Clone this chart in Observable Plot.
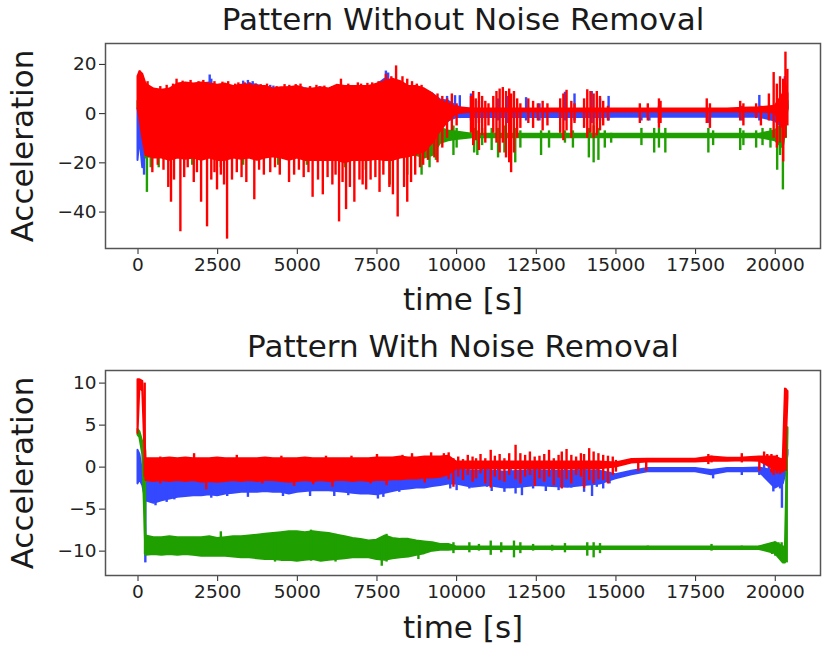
<!DOCTYPE html>
<html><head><meta charset="utf-8">
<script src="https://cdn.jsdelivr.net/npm/d3@7"></script>
<script src="https://cdn.jsdelivr.net/npm/@observablehq/plot@0.6"></script>
<style>
body{margin:0;background:#fff;}
#chart{width:830px;height:650px;}
#chart svg{display:block;}
</style></head><body><div id="chart"></div>
<script>
// ---------- shared time grid (s) ----------
const tGrid = [0, 60, 150, 250,
  500, 750, 1000, 1250, 1500, 1750, 2000, 2250, 2500, 2750,
  3000, 3250, 3500, 3750, 4000, 4250, 4500, 4750, 5000, 5250,
  5500, 5750, 6000, 6250, 6500, 6750, 7000, 7250, 7500, 7750,
  8000, 8250, 8500, 8750, 9000, 9250, 9500, 9750, 10000,
  10500, 11000, 11500, 12000, 12500, 13000, 13500, 14000, 14500, 15000,
  15500, 16000, 16500, 17000, 17500, 18000, 18500, 19000, 19500, 20000,
  20250, 20320, 20400];

const xTicks = [0, 2500, 5000, 7500, 10000, 12500, 15000, 17500, 20000];
const topYTicks = [-40, -20, 0, 20];
const botYTicks = [-10, -5, 0, 5, 10];
const titles = ["Pattern Without Noise Removal", "Pattern With Noise Removal"];
const xLabel = "time [s]";
const yLabel = "Acceleration";

// ---------- TOP: without noise removal (envelopes lo/hi on tGrid) ----------
const topBlueLo = [-19, -10, -22, -15,
  -15, -15, -15, -15, -15, -15, -15, -15, -15, -15,
  -15, -15, -15, -15, -15, -15, -15, -15, -15, -15,
  -15, -15, -15, -15, -15, -15, -15, -15, -15, -15,
  -15, -15, -15, -14, -13, -11, -6, -3, -1.6,
  -1.6, -1.6, -1.6, -1.6, -1.6, -1.6, -1.6, -1.6, -1.6, -1.5,
  -1.5, -1.5, -1.5, -1.5, -1.5, -1.5, -1.5, -1.5, -1.5, -3,
  -6, 0, 2];
const topBlueHi = [2, 0, 5, 8,
  9.5, 9, 9.5, 11.5, 12, 11.5, 12, 12.5, 11, 11.5,
  10.5, 11, 12, 11.5, 10.5, 9.5, 10, 10.5, 10.5, 9.5,
  9.5, 10, 9.5, 10.5, 10.5, 10.5, 10.5, 10.5, 11.5, 14,
  13, 12.5, 11, 10.5, 9.5, 8, 5.5, 5, 3,
  0.3, 0.3, 0.3, 0.3, 0.3, 0.3, 0.3, 0.3, 0.3, 0.3,
  0.3, 0.3, 0.3, 0.3, 0.3, 0.3, 0.3, 0.3, 0.3, 3,
  6, 8, 3];
const topGreenLo = [2, 2, -5, -18,
  -17, -17, -17, -17, -17, -17, -17, -17, -17, -17,
  -17, -17, -17, -17, -17, -17, -17, -17, -17, -17,
  -17, -17, -17, -17, -17, -17, -17, -17, -17, -17,
  -17, -17, -17, -17, -18, -17, -12, -11, -10.5,
  -9.8, -9.8, -9.8, -9.8, -9.8, -9.8, -9.8, -9.8, -9.8, -9.8,
  -9.8, -9.8, -9.8, -9.8, -9.8, -9.8, -9.8, -9.8, -9.8, -11,
  -14, -8, 2];
const topGreenHi = [5, 4.5, 3, 0,
  4, 4, 4, 4, 4, 4, 4, 4, 4, 4,
  4, 4, 4, 4, 4, 4, 4, 4, 4, 4,
  4, 4, 4, 4, 4, 4, 4, 4, 4, 4,
  4, 3, 2, 0, -2, -4, -6, -7, -7.5,
  -8.4, -8.4, -8.4, -8.4, -8.4, -8.4, -8.4, -8.4, -8.4, -8.4,
  -8.4, -8.4, -8.4, -8.4, -8.4, -8.4, -8.4, -8.4, -8.4, -7,
  -4, 3, 5];
const topRedLo = [2, -2, -10, -17,
  -18, -18, -19, -18, -18.5, -18, -19, -18, -19, -19,
  -18, -18.5, -18, -19, -18, -17.5, -18, -19, -18, -19,
  -19, -19, -19, -19, -20, -19, -19, -19, -18.5, -19,
  -19, -18, -17.5, -16.5, -15.5, -12, -7, -3, 0,
  0.7, 0.7, 0.7, 0.7, 0.7, 0.7, 0.7, 0.7, 0.7, 0.7,
  0.7, 0.7, 0.7, 0.7, 0.7, 0.7, 0.7, 0.7, 0.6, 0.3,
  -6, -4, 2];
const topRedHi = [15, 17, 16, 12,
  10, 9.5, 10, 12, 12.5, 12, 12.5, 12, 11.5, 12,
  11, 11.5, 11.5, 11, 11, 10, 10.5, 10.5, 11, 10,
  10, 10.5, 10, 11.5, 11, 11, 11, 11, 12, 13,
  14, 13, 11, 11, 10, 8, 5, 4, 2.5,
  1.9, 1.9, 1.9, 1.9, 1.9, 1.9, 1.9, 1.9, 1.9, 1.9,
  1.9, 1.9, 1.9, 1.9, 1.9, 1.9, 1.9, 2.2, 2.4, 3,
  8, 12, 8];

// spikes [t, lo, hi]
const topBlueSpikes = [[190, -25, 0], [2250, 5, 15.7], [2300, 5, 14], [3300, 5, 13.2], [3450, 5, 13.5],
  [3600, 5, 13], [4150, 5, 11.5], [4250, 5, 11.2], [5150, 5, 10.8], [5250, 5, 10.5], [5700, 5, 11],
  [7780, 5, 17.3], [7850, 5, 16.5], [8950, 0, 8], [9200, 0, 8], [9700, -3, 7], [9950, -2, 7.3],
  [10100, -2, 7.3], [10450, -3, 8], [10700, -4, 5], [11300, -3, 6], [11600, -4, 7], [12180, -3, 6.5],
  [12600, -3, 4], [13400, -3, 8.7], [13700, -3, 8], [14240, -4, 9], [14500, -3, 6], [14770, -3, 7],
  [15800, -3, 2], [16050, -3, 2], [16350, -4, 3], [17900, -4, 2], [18950, -3, 3], [19500, -3, 7.4],
  [20300, -6, 15]];
const topGreenSpikes = [[280, -32, -10], [400, -22, -15], [650, -22, -15], [1700, -21, -15],
  [2600, -22, -15], [3300, -21, -15], [4400, -21, -15], [5300, -21, -15], [6500, -22, -15],
  [7150, -23, -15], [7900, -29, -15], [8450, -25, -15], [8900, -25, -12], [9150, -22, -10],
  [9350, -19, -8], [9900, -17, -5], [10000, -14, -6], [10550, -16, -6], [10650, -17, -7],
  [10800, -13, -6], [11100, -15, -6], [11300, -18, -6], [11500, -16, -5], [11700, -19, -6],
  [11840, -20, -6], [12000, -14, -7], [12650, -17, -7], [12900, -14, -7], [13400, -12, -7],
  [13650, -14, -7], [14150, -18, -6], [14300, -20, -5], [14450, -19, -6], [14650, -14, -7],
  [14850, -12, -8], [15800, -13, -6], [16200, -16, -6], [16350, -14, -6], [16550, -16, -6],
  [17900, -16, -6], [18050, -13, -7], [18900, -15, -6], [19000, -13, -7], [19400, -14, -7],
  [19600, -13, -6], [19850, -14, -6], [20060, -23, -6], [20150, -17, -5], [20240, -31, -8],
  [20330, -10, 5]];
const topRedSpikes = [[60, 2, 17.3],
  [300, 5, 13], [700, 5, 11], [900, 5, 11.5], [1100, 5, 12], [1400, 5, 13.2], [1900, 5, 13],
  [2400, 5, 13], [2650, 5, 12.8], [3050, 5, 12], [3150, 5, 12.5], [3350, 5, 12.5], [3700, 5, 12],
  [3850, 5, 11.8], [4350, 5, 11], [4750, 5, 11.5], [4950, 5, 11.8], [5400, 5, 11], [5850, 5, 11.2],
  [6100, 5, 11], [6600, 5, 12], [7000, 5, 12], [7200, 5, 12.3], [7550, 5, 13], [7950, 5, 15],
  [8450, 5, 14], [8750, 5, 12], [8900, 5, 11.5],
  [450, -24, -15], [620, -21, -15], [800, -23, -15], [950, -30, -15], [1036, -36, -15],
  [1130, -27, -15], [1210, 5, 14], [1330, -48, -15], [1450, -26, -15], [1560, -22, -15],
  [1650, 5, 13.5], [1750, -28, -15], [1850, -24, -15], [1980, -36, -15], [2050, 5, 13.5],
  [2167, -46, -15], [2300, -27, -15], [2400, -24, -15], [2480, -31, -15], [2600, -25, -15],
  [2700, -29, -15], [2795, -51, -15], [2830, 5, 13], [2950, -27, -15], [3100, -24, -15],
  [3250, -26, -15], [3400, -28, -15], [3500, 5, 12.5], [3650, -35, -15], [3800, -23, -15],
  [3950, -25, -15], [4050, 5, 12], [4150, -24, -15], [4300, -22, -15], [4450, -25, -15],
  [4600, 5, 11.8], [4740, -28, -15], [4900, -25, -15], [5050, -23, -15], [5100, 5, 12],
  [5200, -26, -15], [5350, -24, -15], [5480, -34, -15], [5600, 5, 11.5], [5650, -27, -15],
  [5800, -33, -15], [5950, -26, -15], [6100, -29, -15], [6200, -25, -15], [6310, -44, -15],
  [6370, 5, 14], [6420, -28, -15], [6530, -39, -15], [6650, -30, -15], [6790, -36, -15],
  [6900, 5, 12.5], [6950, -27, -15], [7050, -29, -15], [7160, -31, -15], [7300, -27, -15],
  [7350, 5, 12.5], [7450, -26, -15], [7580, -32, -15], [7700, -25, -15], [7780, 5, 16],
  [7890, -30, -15], [8000, -33, -15], [8100, 5, 19.4], [8150, -42, -15], [8300, 5, 15],
  [8350, -30, -15], [8450, -36, -15], [8570, -28, -15], [8600, 5, 13], [8700, -25, -15],
  [8850, -22, -15], [8950, -21, -12], [9100, -19, -10], [9300, -18, -8], [9400, -20, 8],
  [9550, -14, 7], [9700, -10, 6], [9850, -7, 8], [10000, -5, 4],
  [10450, -8, 7], [10520, -13, 9], [10600, -11, 6], [10700, -15, 8.6], [10800, -9, 7],
  [10900, -12, 5], [11000, -5, 4], [11150, -8, 7], [11250, -12, 9], [11350, -16, 10],
  [11450, -12, 10.6], [11550, -18, 9], [11650, -20, 10], [11710, -24, 8], [11800, -16, 9],
  [11900, -10, 6], [12000, -6, 4], [12250, -4, 6], [12400, -6, 5], [12550, -3, 4],
  [12700, -7, 5], [12850, -5, 4], [13250, -8, 6], [13350, -11, 8], [13450, -7, 9.5],
  [13600, -10, 5], [13700, -4, 4], [14000, -6, 6], [14100, -10, 9.7], [14200, -8, 9],
  [14300, -10, 8], [14400, -9, 9], [14500, -7, 7], [14600, -5, 5], [14750, -3, 3],
  [15750, -4, 4], [16000, -3, 4], [16350, -6, 6], [16400, -4, 5], [17850, -4, 6],
  [17950, -6, 4], [18900, -3, 5], [19000, -5, 4], [19400, -2, 4], [19550, -5, 3],
  [19800, -3, 8], [19950, -10, 16.7], [20050, -14, 12], [20150, -12, 15], [20250, -19.6, 14],
  [20320, -10, 25], [20380, -5, 18]];

// ---------- BOTTOM: with noise removal ----------
const botBlueLo = [-2.0, -1.5, -2.2, -4.0,
  -4.3, -4.0, -3.8, -3.6, -3.5, -3.4, -3.4, -3.3, -3.4, -3.2,
  -3.1, -3.0, -3.0, -3.0, -2.9, -3.0, -3.0, -3.2, -3.0, -2.9,
  -2.8, -2.8, -2.8, -2.9, -3.0, -3.1, -3.2, -3.2, -3.3, -3.1,
  -2.9, -2.7, -2.6, -2.5, -2.5, -2.3, -2.2, -2.0, -2.0,
  -2.4, -2.2, -2.5, -2.4, -2.2, -2.3, -2.4, -2.2, -2.0, -1.4,
  -0.9, -0.55, -0.55, -0.55, -0.55, -0.9, -0.55, -0.55, -0.55, -2.5,
  -2.0, -1.0, 1.5];
const botBlueHi = [2.0, 1.5, -0.8, -1.2,
  -1.2, -1.2, -1.2, -1.2, -1.2, -1.2, -1.2, -1.2, -1.2, -1.1,
  -1.1, -1.1, -1.0, -1.0, -1.0, -1.0, -1.0, -1.0, -1.0, -1.0,
  -1.0, -1.0, -1.0, -1.0, -1.0, -1.0, -1.0, -1.0, -1.0, -1.0,
  -1.0, -0.9, -0.9, -0.8, -0.8, -0.7, -0.6, -0.5, -0.3,
  -0.5, -0.4, -0.6, -0.5, -0.4, -0.5, -0.5, -0.4, -0.5, -0.9,
  -0.5, -0.15, -0.15, -0.15, -0.15, -0.4, -0.15, -0.15, -0.1, -0.5,
  -0.8, 2.0, 2.0];
const botGreenLo = [3.8, 3.5, 1.5, -10.5,
  -10.4, -10.5, -10.4, -10.5, -10.4, -10.5, -10.6, -10.6, -10.6, -10.6,
  -10.7, -10.8, -10.8, -10.9, -11.0, -11.0, -11.1, -11.1, -11.2, -11.1,
  -11.0, -11.2, -11.1, -11.0, -10.9, -10.8, -10.8, -10.8, -11.0, -11.1,
  -10.9, -10.8, -10.7, -10.5, -10.3, -10.0, -9.9, -9.9, -9.8,
  -9.8, -9.8, -9.8, -9.8, -9.8, -9.8, -9.8, -9.8, -9.8, -9.8,
  -9.8, -9.8, -9.8, -9.8, -9.8, -9.8, -9.8, -9.8, -9.8, -10.3,
  -11.4, -11.4, 4.0];
const botGreenHi = [4.5, 4.2, 3.0, -8.2,
  -8.4, -8.4, -8.3, -8.4, -8.4, -8.4, -8.4, -8.3, -8.5, -8.4,
  -8.3, -8.3, -8.2, -8.1, -8.0, -7.9, -7.8, -7.7, -7.7, -7.8,
  -7.7, -7.8, -7.9, -8.1, -8.3, -8.5, -8.6, -8.8, -8.7, -8.2,
  -8.5, -8.6, -8.6, -8.8, -8.9, -9.0, -9.2, -9.2, -9.5,
  -9.5, -9.5, -9.5, -9.5, -9.5, -9.5, -9.5, -9.5, -9.5, -9.5,
  -9.5, -9.5, -9.5, -9.5, -9.5, -9.5, -9.5, -9.5, -9.5, -9.0,
  -9.5, -9.5, 4.7];
const botRedLo = [4, 9.5, 9.0, -1.6,
  -1.7, -1.6, -1.7, -1.6, -1.7, -1.6, -1.8, -1.7, -1.8, -1.7,
  -1.6, -1.7, -1.6, -1.7, -1.6, -1.6, -1.7, -1.8, -1.7, -1.6,
  -1.7, -1.6, -1.7, -1.6, -1.6, -1.7, -1.6, -1.7, -1.6, -1.6,
  -1.5, -1.5, -1.4, -1.4, -1.3, -1.3, -1.2, -0.9, -0.2,
  -0.2, -0.2, -0.2, -0.2, -0.2, -0.2, -0.2, -0.2, -0.2, 0.0,
  0.5, 0.6, 0.6, 0.6, 0.6, 0.7, 0.7, 0.75, 0.7, -0.3,
  -0.6, 0.0, 8.2];
const botRedHi = [10.4, 10.4, 10.2, 1.0,
  1.0, 1.0, 1.1, 1.0, 1.1, 1.0, 1.0, 1.0, 1.1, 1.0,
  1.0, 1.0, 1.0, 1.0, 1.1, 1.0, 1.0, 1.0, 1.0, 1.1,
  1.0, 1.0, 1.0, 1.0, 1.0, 1.0, 1.0, 1.0, 1.1, 1.1,
  1.1, 1.2, 1.1, 1.1, 1.2, 1.2, 1.2, 1.3, 0.6,
  0.6, 0.6, 0.6, 0.6, 0.6, 0.6, 0.6, 0.6, 0.6, 0.5,
  0.9, 0.95, 0.95, 0.95, 0.95, 1.2, 1.05, 1.1, 1.2, 1.2,
  0.8, 9.3, 9.0];

const botBlueSpikes = [[230, -11.4, -1.5], [550, -4.6, -2], [900, -4.2, -2], [1140, -3.9, -2],
  [2300, -3.7, -2], [2800, -3.5, -2], [3450, -3.6, -2], [4550, -3.5, -2], [5400, -3.5, -2],
  [6160, -3.5, -2], [6600, -3.4, -2], [7530, -3.8, -2], [7700, -3.6, -2], [8200, -3.0, -1.5],
  [9670, -1.5, 0.2], [9800, -2.6, -0.4], [10000, -2.8, -0.5], [10200, -2.2, 0.0], [10400, -2.6, -0.3],
  [10600, -2.0, -0.2], [10800, -1.2, 0.2], [10950, -2.4, -0.5], [11100, -2.9, -0.8], [11300, -2.2, -0.2],
  [11500, -3.0, -0.6], [11700, -2.4, -0.3], [11850, -3.2, -0.5], [12050, -3.4, -1.0], [12250, -2.2, -0.2],
  [12400, -2.6, -0.4], [12600, -2.1, -0.3], [12800, -2.9, -0.6], [13000, -2.3, -0.2], [13200, -2.8, -0.5],
  [13400, -2.0, -0.1], [13600, -2.5, -0.4], [13800, -2.2, -0.3], [14000, -3.0, -0.6], [14250, -3.5, -0.5],
  [14400, -2.4, -0.3], [14600, -2.6, -0.8], [14800, -2.0, -0.6],
  [18050, -1.4, -0.3], [18950, -1.0, -0.3], [19500, -1.0, -0.3], [19650, -0.5, 0.4], [19800, -1.2, 0.2],
  [19940, -2.95, -0.5], [20050, -2.2, -0.6], [20150, -2.6, -0.8], [20210, -4.9, -1.0], [20350, -1.0, 2.0]];
const botGreenSpikes = [[220, -10.4, 2.0],
  [2600, -10.5, -7.7], [4300, -11.3, -7.8], [5430, -11.2, -7.5], [6200, -11.3, -8.0],
  [7650, -11.8, -9.0], [7800, -11.3, -8.0], [8800, -11.0, -9.0],
  [9900, -10.3, -9.0], [10400, -10.2, -9.0], [10700, -10.0, -9.2], [11070, -10.5, -8.8],
  [11400, -10.2, -9.0], [11800, -10.8, -8.8], [12000, -10.3, -9.0], [12400, -10.0, -9.2],
  [13000, -10.0, -9.3], [13400, -10.2, -9.1], [14100, -10.6, -9.0], [14300, -10.8, -9.0],
  [14500, -10.3, -9.1], [16000, -9.9, -9.4], [18000, -10.0, -9.2], [18950, -9.9, -9.4],
  [19500, -9.9, -9.4], [19900, -10.4, -9.0], [20000, -10.6, -8.9], [20100, -10.5, -9.0],
  [20200, -10.8, -9.0], [20280, -11.4, -9.5], [20360, -11.4, 4.7]];
const botRedSpikes = [[210, -1.2, 10.0],
  [700, -2.0, 1.2], [1760, -1.5, 1.6], [2140, -2.7, 0], [3100, 0, 1.4], [3900, -2.0, 0],
  [4500, 0, 1.3], [4900, -2.3, 0], [5500, -2.1, 0], [5900, 0, 1.3], [6100, -2.4, 0],
  [6700, 0, 1.3], [7300, -2.0, 0], [7500, 0, 1.5], [7800, -2.2, 0], [8300, 0, 1.4],
  [8600, 0, 1.6], [9000, -1.9, 0], [9200, 0, 1.7],
  [9600, -0.8, 1.6], [9750, -1.5, 1.7], [9900, -2.4, 1.0], [10050, -1.2, 1.2], [10200, -1.6, 0.9],
  [10350, -1.0, 1.4], [10500, -1.8, 1.2], [10610, -1.4, 1.0], [10750, -0.8, 1.5], [10900, -2.0, 1.0],
  [11070, -2.5, 2.0], [11200, -1.2, 1.3], [11350, -1.6, 1.5], [11500, -1.8, 1.0], [11650, -1.0, 1.6],
  [11850, -1.5, 2.6], [12000, -2.0, 1.6], [12150, -1.2, 1.4], [12300, -1.0, 1.8], [12450, -2.3, 1.2],
  [12600, -1.4, 1.3], [12750, -1.8, 1.5], [12900, -1.2, 2.0], [13050, -2.2, 1.0], [13200, -1.3, 1.4],
  [13300, -2.6, 1.8], [13450, -1.5, 2.1], [13600, -2.0, 1.4], [13750, -1.0, 1.2], [13900, -1.2, 1.6],
  [14000, -2.5, 1.5], [14160, -1.6, 2.2], [14300, -2.0, 1.8], [14450, -1.5, 1.6], [14600, -1.6, 1.4],
  [14750, -2.0, 1.3], [14900, -1.0, 1.2], [15000, -0.6, 0.8],
  [15700, -0.5, 0.9], [15950, -0.5, 0.9], [17900, 0.3, 1.5], [18000, 0.5, 1.3], [18950, 0.5, 1.6],
  [19500, -0.5, 1.0], [19650, 0.6, 1.8], [19750, 0.3, 1.5], [19880, -0.7, 1.5], [19950, -1.0, 1.2],
  [20050, -0.8, 1.4], [20150, -0.9, 1.0], [20250, -0.6, 1.0], [20330, -0.5, 9.3]];

// ---------- drawing ----------
const colors = {x: "#3348ff", y: "#1f9f00", z: "#ff0000"};
const fmt = d => d < 0 ? "\u2212" + (-d) : String(d);
const env = (lo, hi) => tGrid.map((t, i) => ({t, lo: lo[i], hi: hi[i]}));
const spk = arr => arr.map(([t, lo, hi]) => ({t, lo, hi}));

function panel({title, yDomain, yTicks, series, mt, mb, titleDy, xlDy}) {
  const marks = [];
  for (const s of series) {
    marks.push(Plot.areaY(env(s.lo, s.hi), {x: "t", y1: "lo", y2: "hi", fill: s.color,
      stroke: s.color, strokeWidth: 2, strokeLinejoin: "round"}));
    marks.push(Plot.ruleX(spk(s.spikes), {x: "t", y1: "lo", y2: "hi", stroke: s.color, strokeWidth: 2.4}));
  }
  const txt = {fontSize: 31, fill: "#1a1a1a", lineAnchor: "middle", textAnchor: "middle", fontFamily: "DejaVu Sans"};
  return Plot.plot({
    width: 830, height: 325,
    marginLeft: 105, marginRight: 10, marginTop: mt, marginBottom: mb,
    style: {fontFamily: "DejaVu Sans", fontSize: "18.5px", color: "#222", background: "#fff"},
    x: {domain: [-1020, 21420], ticks: xTicks, tickFormat: fmt, tickSize: 6, tickPadding: 3, label: null},
    y: {domain: yDomain, ticks: yTicks, tickFormat: fmt, tickSize: 6, tickPadding: 3, label: null},
    marks: [
      ...marks,
      Plot.frame({stroke: "#555", strokeWidth: 1.5}),
      Plot.text([title], {...txt, frameAnchor: "top", dy: titleDy}),
      Plot.text([xLabel], {...txt, frameAnchor: "bottom", dy: xlDy}),
      Plot.text([yLabel], {...txt, frameAnchor: "left", dx: -82, rotate: -90})
    ]
  });
}

const topChart = panel({
  title: titles[0], yDomain: [-54.8, 28.5], yTicks: topYTicks, mt: 43, mb: 77, titleDy: -23, xlDy: 52,
  series: [
    {lo: topBlueLo, hi: topBlueHi, spikes: topBlueSpikes, color: colors.x},
    {lo: topGreenLo, hi: topGreenHi, spikes: topGreenSpikes, color: colors.y},
    {lo: topRedLo, hi: topRedHi, spikes: topRedSpikes, color: colors.z}
  ]
});
const botChart = panel({
  title: titles[1], yDomain: [-12.9, 11.5], yTicks: botYTicks, mt: 45, mb: 75, titleDy: -23, xlDy: 53,
  series: [
    {lo: botBlueLo, hi: botBlueHi, spikes: botBlueSpikes, color: colors.x},
    {lo: botGreenLo, hi: botGreenHi, spikes: botGreenSpikes, color: colors.y},
    {lo: botRedLo, hi: botRedHi, spikes: botRedSpikes, color: colors.z}
  ]
});
document.getElementById("chart").append(topChart, botChart);
</script></body></html>
